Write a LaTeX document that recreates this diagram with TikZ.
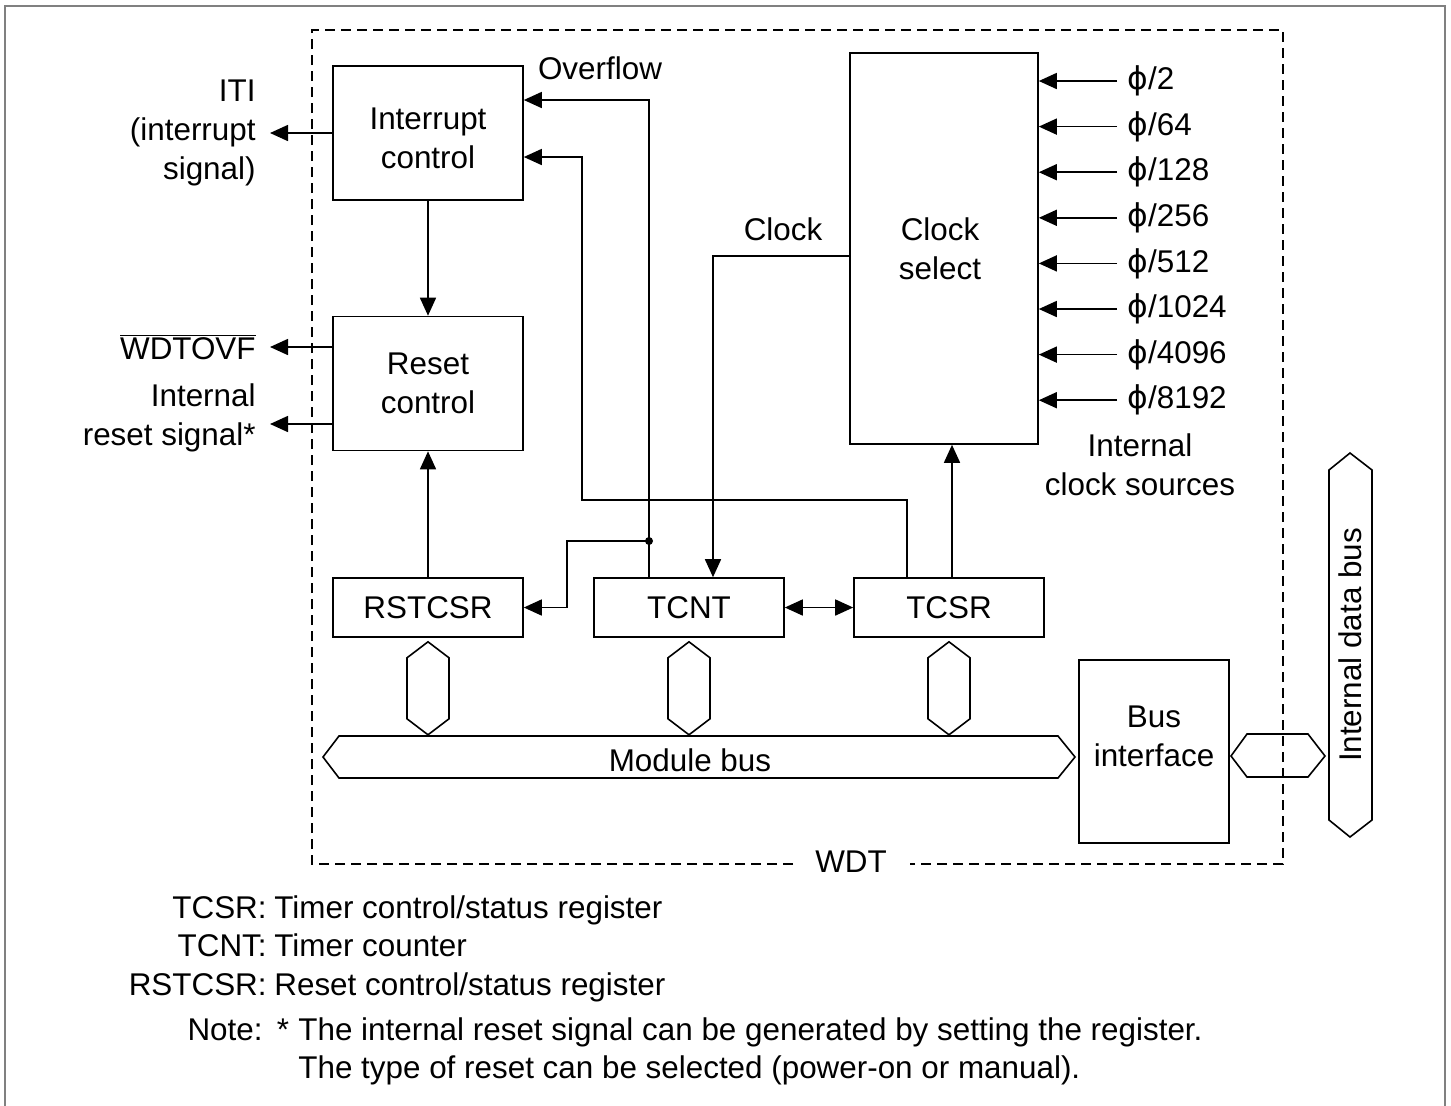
\documentclass[tikz,border=0pt]{standalone}
\usepackage{fontspec}
\setmainfont{Liberation Sans}
\newfontfamily\phifont{DejaVu Sans}
\usetikzlibrary{arrows.meta,calc}
\newcommand{\ph}{{\phifont ϕ}}
\tikzset{
  block/.style={draw, line width=0.8pt, minimum width=95pt, minimum height=67pt, align=center, inner sep=0pt},
  reg/.style={draw, line width=0.8pt, minimum width=95pt, minimum height=29.5pt, inner sep=0pt},
  wire/.style={line width=0.8pt},
  sig/.style={wire, -{Triangle[length=9pt,width=8pt]}},
  lbl/.style={inner sep=0pt, align=center},
}

\begin{document}
\begin{tikzpicture}[x=0.5pt, y=-0.5pt, font=\fontsize{15.7}{19.5}\selectfont]
  \useasboundingbox (0,0) rectangle (1451,1105);
  \draw[gray, line width=0.6pt] (5,1110) -- (5,6) -- (1445,6) -- (1445,1110);   % outer frame

  % WDT module frame
  \node[lbl] (wdt) at (851,862) {WDT};
  \draw[line width=0.6pt, dash pattern=on 5pt off 3pt] (793,864) -- (312,864) -- (312,30) -- (1283,30) -- (1283,864) -- (910,864);

  % blocks
  \node[block] (intc) at (428,133) {};
  \node[lbl] (intclbl) at ($(intc.center)+(0,5)$) {Interrupt\\control};
  \node[block] (rstc) at (428,383.5) {Reset\\control};
  \node[block, minimum width=94pt, minimum height=195.5pt] (clksel) at (944,248.5) {};
  \node[lbl] (clksellbl) at ($(clksel.center)+(-4,0)$) {Clock\\select};
  \node[reg] (rstcsr) at (428,607.5) {RSTCSR};
  \node[reg] (tcnt) at (689,607.5) {TCNT};
  \node[reg] (tcsr) at (949,607.5) {TCSR};
  \node[draw, wire, minimum width=75pt, minimum height=91.5pt] (busif) at (1154,751.5) {};
  \node[lbl] (busiflbl) at (1154,736) {Bus\\interface};

  % outputs on the left
  \coordinate (itiout) at (270,133);
  \draw[sig] (intc.west) -- (itiout);
  \node[lbl, align=right, anchor=east] (iti) at (256,133) {ITI\\(interrupt\\signal)};
  \coordinate (wdtout) at (270,347);
  \draw[sig] (rstc.west |- wdtout) -- (wdtout);
  \node[lbl, anchor=east] (wdtovf) at (256,347) {$\overline{\mbox{WDTOVF}}$};
  \coordinate (rstout) at (270,424);
  \draw[sig] (rstc.west |- rstout) -- (rstout);
  \node[lbl, align=right, anchor=east] (rstsig) at (256,418) {Internal\\reset signal*};

  % internal signals
  \draw[sig] (intc) -- (rstc);
  \draw[sig] (rstcsr) -- (rstc);
  \draw[wire, {Triangle[length=9pt,width=8pt]}-{Triangle[length=9pt,width=8pt]}] (tcnt) -- (tcsr);

  \coordinate (ovf) at (649,100);
  \draw[sig] (tcnt.north -| ovf) -- (ovf) -- (intc.east |- ovf);
  \node[lbl] (ovflbl) at (600,68) {Overflow};
  \coordinate (jn) at (649,541);
  \fill (jn) circle (2pt);
  \coordinate (jnbend) at (567,541);
  \draw[sig] (jn) -- (jnbend) |- (rstcsr.east);

  \coordinate (tup) at (907,500);
  \coordinate (tleft) at (582,500);
  \coordinate (intin) at ($(intc.east)+(0,24)$);
  \draw[sig] (tcsr.north -| tup) -- (tup) -- (tleft) |- (intin);

  \coordinate (clkbend) at (713,256);
  \draw[sig] (clksel.west |- clkbend) -- (clkbend) -- (tcnt.north -| clkbend);
  \node[lbl] (clklbl) at (783,229) {Clock};
  \coordinate (csel) at ($(tcsr.north)+(3,0)$);
  \draw[sig] (csel) -- (csel |- clksel.south);

  % clock sources
  \foreach \d [count=\i] in {2,64,128,256,512,1024,4096,8192} {
    \node[lbl, anchor=west] (src\i) at (1127,{81+45.6*(\i-1)}) {\ph/\d};
    \draw[sig] (src\i.west) ++(-10,0) -- (clksel.east |- src\i.west);
  }
  \node[lbl] (srclbl) at (1140,465) {Internal\\clock sources};

  % buses
  \draw[wire] (323,757) -- (339,736) -- (1058,736) -- (1075,757) -- (1058,778) -- (339,778) -- cycle;
  \node[lbl] (modbus) at (690,760) {Module bus};
  \foreach \n in {rstcsr,tcnt,tcsr}
    \draw[wire] ([yshift=-2pt]\n.south) -- ++(21,16) -- ++(0,61) -- ++(-21,16) -- ++(-21,-16) -- ++(0,-61) -- cycle;
  \draw[wire] (1231,756) -- (1247,734) -- (1308,734) -- (1325,756) -- (1308,777) -- (1247,777) -- cycle;
  \draw[wire] (1350,453) -- (1372,470) -- (1372,820) -- (1350,837) -- (1329,820) -- (1329,470) -- cycle;
  \node[lbl, rotate=90] (idb) at (1350,645) {Internal data bus};

  % legend
  \foreach \k/\t/\y in {TCSR/{Timer control/status register}/918, TCNT/{Timer counter}/956, RSTCSR/{Reset control/status register}/995} {
    \node[inner sep=0pt, anchor=base east] (key\k) at (267,\y) {\k:};
    \node[inner sep=0pt, anchor=base west] (txt\k) at (274,\y) {\t};
  }
  \node[inner sep=0pt, anchor=base east] (note) at (263,1040) {Note:};
  \node[inner sep=0pt, anchor=base] (star) at (283,1040) {*};
  \node[inner sep=0pt, anchor=base west] (noteA) at (298,1040) {The internal reset signal can be generated by setting the register.};
  \node[inner sep=0pt, anchor=base west] (noteB) at (298,1078) {The type of reset can be selected (power-on or manual).};
\end{tikzpicture}
\end{document}
